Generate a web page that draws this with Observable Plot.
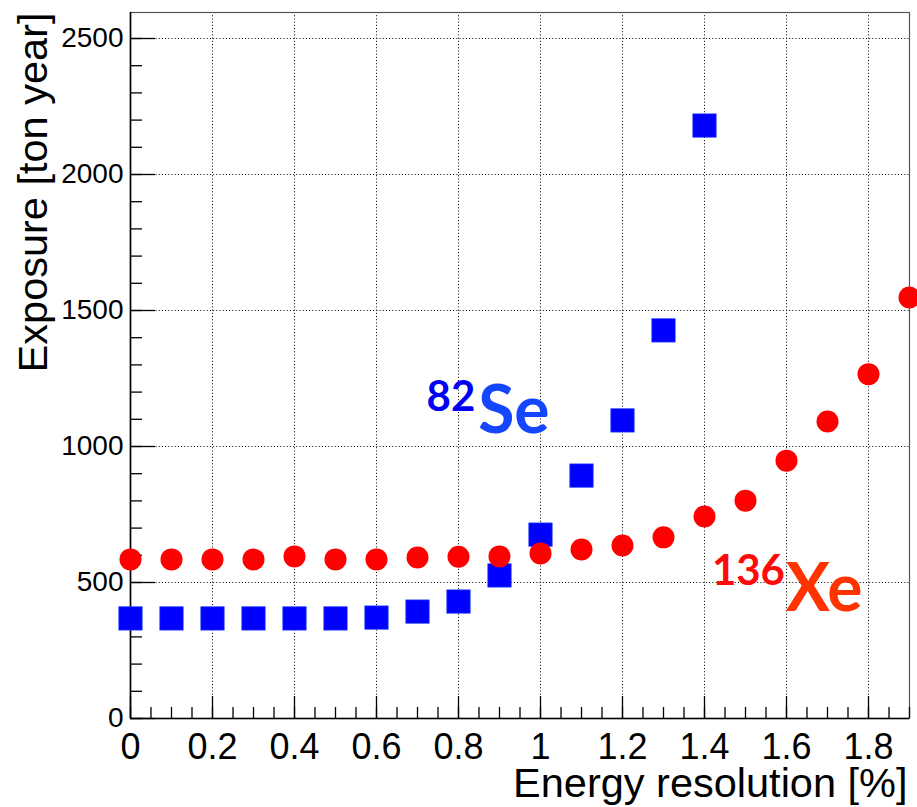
<!DOCTYPE html>
<html>
<head>
<meta charset="utf-8">
<script src="https://cdn.jsdelivr.net/npm/d3@7"></script>
<script src="https://cdn.jsdelivr.net/npm/@observablehq/plot@0.6"></script>
<style>
  html, body { margin: 0; padding: 0; background: #fff; }
  #chart svg { display: block; }
  #chart svg text { font-family: "Liberation Sans", Arimo, Arial, Helvetica, sans-serif; }
  #chart svg .iso text, #chart svg text.iso { font-family: Lato, "Open Sans", sans-serif; }
</style>
</head>
<body>
<div id="chart"></div>
<script>
// Energy resolution [%]
const resolution = [0, 0.1, 0.2, 0.3, 0.4, 0.5, 0.6, 0.7, 0.8, 0.9, 1.0, 1.1, 1.2, 1.3, 1.4, 1.5, 1.6, 1.7, 1.8, 1.9];
// 136Xe exposure [ton year]
const xeExposure = [585, 585, 585, 585, 596, 585, 585, 592, 595, 596, 607, 621, 636, 666, 743, 801, 948, 1092, 1266, 1548];
// 82Se exposure [ton year]
const seExposure = [368, 368, 368, 368, 368, 368, 371, 393, 430, 526, 676, 893, 1096, 1427, 2180];

const xMajorTicks = [0, 0.2, 0.4, 0.6, 0.8, 1, 1.2, 1.4, 1.6, 1.8];
const xMinorTicks = d3.range(0, 1.9001, 0.05).map(v => +v.toFixed(2));
const yMajorTicks = [0, 500, 1000, 1500, 2000, 2500];
const yMinorTicks = d3.range(0, 2501, 100);

// Isotope labels (data-space anchor of each text piece)
const labelSup = [{x: 0.722, y: 1132, text: "82", color: "#0000f5"}, {x: 1.418, y: 489, text: "136", color: "#ff0a0a"}];
const labelMain = [{x: 0.848, y: 1051, text: "Se", color: "#1446ff"}, {x: 1.598, y: 397, text: "Xe", color: "#ff3300"}];

const xe = resolution.map((r, i) => ({r, v: xeExposure[i]}));
const se = seExposure.map((v, i) => ({r: resolution[i], v}));

const fmtX = d => d === 0 ? "0" : d3.format("~g")(d);
const fmtY = d3.format("d");
const none = () => "";
const SANS = "'Liberation Sans', Arimo, Arial, Helvetica, sans-serif";
const ISO = "Lato, 'Open Sans', sans-serif";

const plot = Plot.plot({
  width: 917,
  height: 807,
  marginLeft: 130,
  marginTop: 12,
  marginRight: 8,
  marginBottom: 89,
  style: {fontFamily: SANS, background: "#fff", color: "#000"},
  x: {domain: [0, 1.9]},
  y: {domain: [0, 2595.6]},
  marks: [
    Plot.gridX(xMajorTicks.filter(d => d > 0), {stroke: "#000", strokeOpacity: 1, strokeDasharray: "1,2.2"}),
    Plot.gridY(yMajorTicks.filter(d => d > 0), {stroke: "#000", strokeOpacity: 1, strokeDasharray: "1,2.2"}),
    Plot.frame({stroke: "#555", strokeWidth: 1.2}),
    Plot.ruleY([0], {stroke: "#000", strokeWidth: 1.6}),
    Plot.ruleX([0], {stroke: "#000", strokeWidth: 1.6}),
    Plot.axisX(xMinorTicks, {tickSize: -11, tickFormat: none, label: null, stroke: "#000", strokeWidth: 1.3}),
    Plot.axisX(xMajorTicks, {tickSize: -22, tickPadding: 37, fontSize: 36, tickFormat: fmtX, label: null, stroke: "#000", strokeWidth: 1.3, fill: "#000", fontFamily: SANS}),
    Plot.axisY(yMinorTicks, {tickSize: -12, tickFormat: none, label: null, stroke: "#000", strokeWidth: 1.3}),
    Plot.axisY(yMajorTicks, {tickSize: -25, tickPadding: 32, fontSize: 28, tickFormat: fmtY, label: null, stroke: "#000", strokeWidth: 1.3, fill: "#000", fontFamily: SANS}),
    Plot.text(["Energy resolution [%]"], {frameAnchor: "bottom-right", textAnchor: "end", lineAnchor: "bottom", dx: -2, dy: 78, fontSize: 41.5, fill: "#000", fontFamily: SANS}),
    Plot.text(["Exposure [ton year]"], {frameAnchor: "top-left", rotate: -90, textAnchor: "end", lineAnchor: "bottom", dx: -84, dy: 0, fontSize: 41.5, fill: "#000", fontFamily: SANS}),
    Plot.dot(se, {x: "r", y: "v", symbol: "square", r: 13.3, fill: "#0000ff", stroke: "#3355ff", strokeWidth: 0.6}),
    Plot.dot(xe, {x: "r", y: "v", symbol: "circle", r: 11, fill: "#ff0000"}),
    Plot.text(labelSup, {x: "x", y: "y", text: "text", fill: "color", textAnchor: "start", lineAnchor: "bottom", fontSize: 42, fontWeight: "bold", fontFamily: ISO, className: "iso"}),
    Plot.text(labelMain, {x: "x", y: "y", text: "text", fill: "color", textAnchor: "start", lineAnchor: "bottom", fontSize: 66, fontWeight: "bold", fontFamily: ISO, className: "iso"})
  ]
});
document.getElementById("chart").appendChild(plot);
</script>
</body>
</html>
